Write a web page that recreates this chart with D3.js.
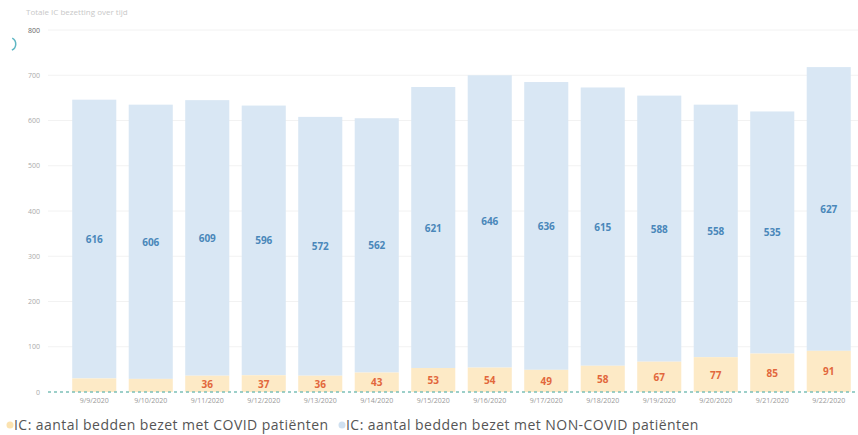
<!DOCTYPE html>
<html lang="nl">
<head>
<meta charset="utf-8">
<script src="https://d3js.org/d3.v7.min.js"></script>
<style>
  body { margin: 0; background: #fff; }
  svg { display: block; font-family: "Open Sans", "Noto Sans", sans-serif; }
</style>
</head>
<body>
<div id="chart"></div>
<script>
var dates = ["9/9/2020", "9/10/2020", "9/11/2020", "9/12/2020", "9/13/2020", "9/14/2020", "9/15/2020",
             "9/16/2020", "9/17/2020", "9/18/2020", "9/19/2020", "9/20/2020", "9/21/2020", "9/22/2020"];
var covid = [30, 29, 36, 37, 36, 43, 53, 54, 49, 58, 67, 77, 85, 91];
var nonCovid = [616, 606, 609, 596, 572, 562, 621, 646, 636, 615, 588, 558, 535, 627];
var yTicks = [0, 100, 200, 300, 400, 500, 600, 700, 800];
var seriesNames = ["IC: aantal bedden bezet met COVID patiënten", "IC: aantal bedden bezet met NON-COVID patiënten"];

var width = 858, height = 435;
var colCovid = "#fdeac6", colNon = "#d9e7f4";

var svg = d3.select("#chart").append("svg")
    .attr("width", width)
    .attr("height", height);

var x = d3.scaleBand()
    .domain(dates)
    .range([66, 857])
    .paddingInner(0.22)
    .paddingOuter(0.11);

var y = d3.scaleLinear()
    .domain([0, 800])
    .range([392, 30]);

// title
svg.append("text")
    .attr("x", 26).attr("y", 15)
    .attr("font-size", 8)
    .attr("fill", "#c8c8c8")
    .text("Totale IC bezetting over tijd");

// loading arc
svg.append("path")
    .attr("transform", "translate(9,44)")
    .attr("d", d3.arc().innerRadius(6).outerRadius(7.5).startAngle(0.5).endAngle(2.7)())
    .attr("fill", "#5fb7c4");

// grid + y labels
var yAxis = svg.append("g");
yAxis.selectAll("line").data(yTicks.filter(function(d) { return d > 0; }))
    .enter().append("line")
    .attr("x1", 48).attr("x2", 858)
    .attr("y1", function(d) { return y(d); })
    .attr("y2", function(d) { return y(d); })
    .attr("stroke", "#f2f2f2")
    .attr("stroke-width", 1);

yAxis.selectAll("text").data(yTicks)
    .enter().append("text")
    .attr("x", 40)
    .attr("y", function(d) { return y(d) + 2.5; })
    .attr("text-anchor", "end")
    .attr("font-size", 7)
    .attr("fill", function(d) { return d === 800 ? "#666" : "#aaa"; })
    .text(function(d) { return d; });

// bars
var g = svg.selectAll(".bar").data(dates).enter().append("g").attr("class", "bar");

g.append("rect")
    .attr("x", function(d) { return x(d); })
    .attr("width", x.bandwidth())
    .attr("y", function(d, i) { return y(covid[i] + nonCovid[i]); })
    .attr("height", function(d, i) { return y(covid[i]) - y(covid[i] + nonCovid[i]); })
    .attr("fill", colNon);

g.append("rect")
    .attr("x", function(d) { return x(d); })
    .attr("width", x.bandwidth())
    .attr("y", function(d, i) { return y(covid[i]); })
    .attr("height", function(d, i) { return y(0) - y(covid[i]); })
    .attr("fill", colCovid);

// value labels
g.append("text")
    .attr("x", function(d) { return x(d) + x.bandwidth() / 2; })
    .attr("y", function(d, i) { return (y(covid[i]) + y(covid[i] + nonCovid[i])) / 2 + 4; })
    .attr("text-anchor", "middle")
    .attr("font-size", 10)
    .attr("font-weight", "bold")
    .attr("fill", "#4a87ba")
    .text(function(d, i) { return nonCovid[i]; });

g.filter(function(d, i) { return covid[i] > 32; })
  .append("text")
    .attr("x", function(d) { return x(d) + x.bandwidth() / 2; })
    .attr("y", function(d) { var i = dates.indexOf(d); return (y(0) + y(covid[i])) / 2 + 4; })
    .attr("text-anchor", "middle")
    .attr("font-size", 10)
    .attr("font-weight", "bold")
    .attr("fill", "#e2673c")
    .text(function(d) { return covid[dates.indexOf(d)]; });

// dotted baseline
svg.append("line")
    .attr("x1", 48).attr("x2", 858)
    .attr("y1", y(0)).attr("y2", y(0))
    .attr("stroke", "#7cc0b8")
    .attr("stroke-width", 1.5)
    .attr("stroke-dasharray", "3,3");

// x labels
svg.selectAll(".xl").data(dates).enter().append("text")
    .attr("x", function(d) { return x(d) + x.bandwidth() / 2; })
    .attr("y", 403)
    .attr("text-anchor", "middle")
    .attr("font-size", 7)
    .attr("fill", "#999")
    .text(function(d) { return d; });

// legend
var legendX = [10, 342], legendCol = ["#fbe2b0", "#cfe0f0"];
seriesNames.forEach(function(name, i) {
  svg.append("circle")
      .attr("cx", legendX[i]).attr("cy", 425)
      .attr("r", 3.5)
      .attr("fill", legendCol[i]);
  svg.append("text")
      .attr("x", legendX[i] + 4).attr("y", 430)
      .attr("font-size", 14)
      .attr("letter-spacing", 0.45)
      .attr("fill", "#555")
      .text(name);
});
</script>
</body>
</html>
